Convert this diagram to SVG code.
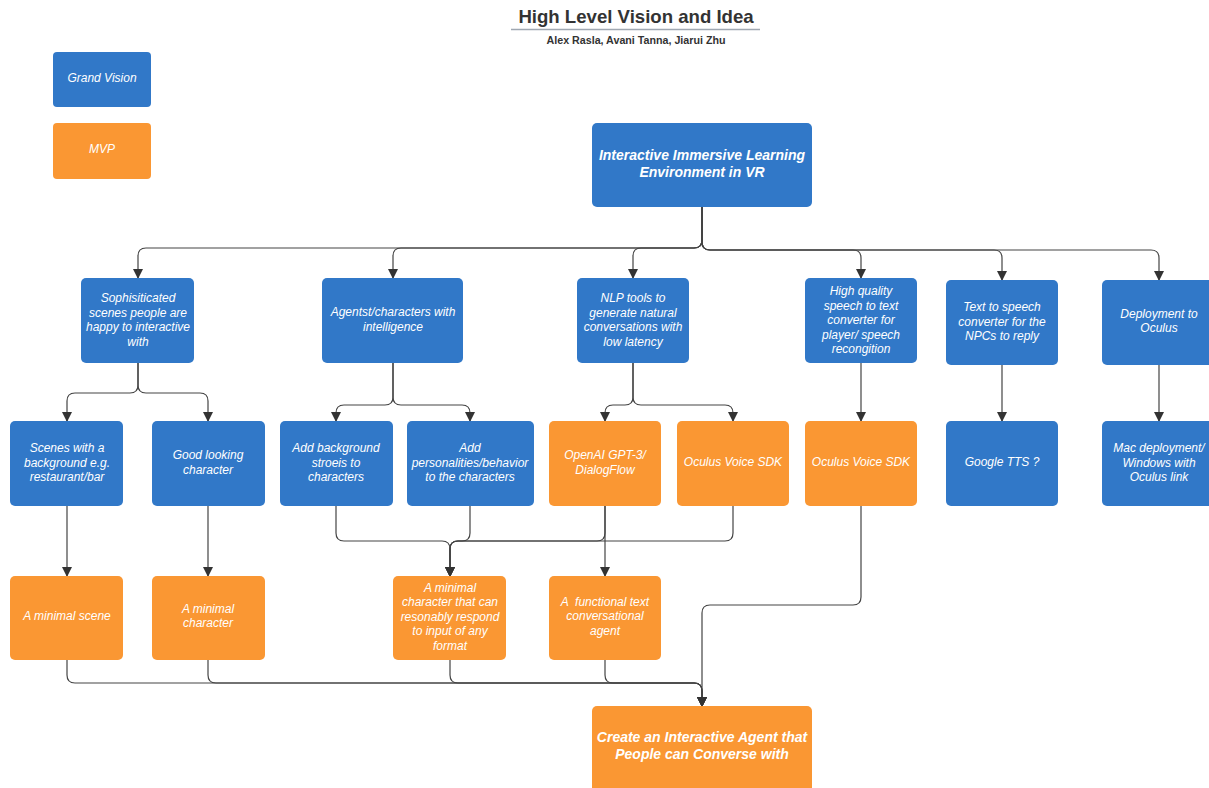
<svg xmlns="http://www.w3.org/2000/svg" width="1209" height="788" viewBox="0 0 1209 788">
<defs>
<style>
.b{fill:#3178c8;}
.o{fill:#fa9733;}
.t{font-family:"Liberation Sans",Arial,sans-serif;font-size:12px;font-style:italic;fill:#ffffff;text-anchor:middle;}
.tb{font-family:"Liberation Sans",Arial,sans-serif;font-size:14px;font-style:italic;font-weight:bold;fill:#ffffff;text-anchor:middle;}
.c{fill:none;stroke:#444;stroke-width:1.2;}
</style>
<marker id="ah" markerWidth="10" markerHeight="12" refX="9" refY="5" orient="auto" markerUnits="userSpaceOnUse">
<path d="M0,0 L10,5 L0,10 Z" fill="#333"/>
</marker>
</defs>
<rect width="1209" height="788" fill="#ffffff"/>
<g id="title">
<text x="636" y="23" font-family="Liberation Sans,Arial,sans-serif" font-size="18.6" font-weight="bold" fill="#333" text-anchor="middle">High Level Vision and Idea</text>
<line x1="511" y1="29.5" x2="760" y2="29.5" stroke="#a0a8b2" stroke-width="1.5"/>
<text x="636" y="44" font-family="Liberation Sans,Arial,sans-serif" font-size="10.7" font-weight="bold" fill="#333" text-anchor="middle">Alex Rasla, Avani Tanna, Jiarui Zhu</text>
</g>
<g id="legend-grand-vision"><rect class="b" x="53" y="52" width="98" height="55" rx="4"/><text class="t" x="102" y="82">Grand Vision</text></g>
<g id="legend-mvp"><rect class="o" x="53" y="123" width="98" height="56" rx="4"/><text class="t" x="102" y="153">MVP</text></g>

<g id="connectors">
<path class="c" d="M702,207 V240 Q702,248 694,248 H146 Q138,248 138,256 V278" marker-end="url(#ah)"/>
<path class="c" d="M702,207 V240 Q702,248 694,248 H401 Q393,248 393,256 V278" marker-end="url(#ah)"/>
<path class="c" d="M702,207 V240 Q702,248 694,248 H641 Q633,248 633,256 V278" marker-end="url(#ah)"/>
<path class="c" d="M702,207 V242 Q702,250 710,250 H853 Q861,250 861,258 V278" marker-end="url(#ah)"/>
<path class="c" d="M702,207 V242 Q702,250 710,250 H994 Q1002,250 1002,258 V280" marker-end="url(#ah)"/>
<path class="c" d="M702,207 V242 Q702,250 710,250 H1151 Q1159,250 1159,258 V280" marker-end="url(#ah)"/>

<path class="c" d="M138,363 V385 Q138,393 130,393 H75 Q67,393 67,401 V421" marker-end="url(#ah)"/>
<path class="c" d="M138,363 V385 Q138,393 146,393 H200 Q208,393 208,401 V421" marker-end="url(#ah)"/>
<path class="c" d="M393,363 V397 Q393,405 385,405 H344 Q336,405 336,413 V421" marker-end="url(#ah)"/>
<path class="c" d="M393,363 V397 Q393,405 401,405 H462 Q470,405 470,413 V421" marker-end="url(#ah)"/>
<path class="c" d="M633,363 V397 Q633,405 625,405 H613 Q605,405 605,413 V421" marker-end="url(#ah)"/>
<path class="c" d="M633,363 V397 Q633,405 641,405 H725 Q733,405 733,413 V421" marker-end="url(#ah)"/>
<path class="c" d="M861,363 V421" marker-end="url(#ah)"/>
<path class="c" d="M1002,365 V421" marker-end="url(#ah)"/>
<path class="c" d="M1159,365 V421" marker-end="url(#ah)"/>

<path class="c" d="M67,506 V576" marker-end="url(#ah)"/>
<path class="c" d="M208,506 V576" marker-end="url(#ah)"/>
<path class="c" d="M336,506 V533 Q336,541 344,541 H442 Q450,541 450,549 V576" marker-end="url(#ah)"/>
<path class="c" d="M470,506 V533 Q470,541 462,541 H458 Q450,541 450,549 V576" marker-end="url(#ah)"/>
<path class="c" d="M605,506 V533 Q605,541 597,541 H458 Q450,541 450,549 V576" marker-end="url(#ah)"/>
<path class="c" d="M733,506 V533 Q733,541 725,541 H458 Q450,541 450,549 V576" marker-end="url(#ah)"/>
<path class="c" d="M605,506 V576" marker-end="url(#ah)"/>
<path class="c" d="M861,506 V597 Q861,605 853,605 H710 Q702,605 702,613 V706" marker-end="url(#ah)"/>

<path class="c" d="M67,660 V675 Q67,683 75,683 H694 Q702,683 702,691 V706" marker-end="url(#ah)"/>
<path class="c" d="M208,660 V675 Q208,683 216,683 H694 Q702,683 702,691 V706" marker-end="url(#ah)"/>
<path class="c" d="M450,660 V675 Q450,683 458,683 H694 Q702,683 702,691 V706" marker-end="url(#ah)"/>
<path class="c" d="M605,660 V675 Q605,683 613,683 H694 Q702,683 702,691 V706" marker-end="url(#ah)"/>
</g>

<g id="n-root"><rect class="b" x="592" y="123" width="220" height="84" rx="5"/>
<text class="tb" x="702" y="160">Interactive Immersive Learning</text><text class="tb" x="702" y="177">Environment in VR</text></g>

<g id="n-scenes"><rect class="b" x="81" y="278" width="113" height="85" rx="5"/>
<text class="t" x="138" y="302">Sophisiticated</text><text class="t" x="138" y="316.5">scenes people are</text><text class="t" x="138" y="331">happy to interactive</text><text class="t" x="138" y="345.5">with</text></g>

<g id="n-agents"><rect class="b" x="322" y="278" width="141" height="85" rx="5"/>
<text class="t" x="393" y="316">Agentst/characters with</text><text class="t" x="393" y="331">intelligence</text></g>

<g id="n-nlp"><rect class="b" x="577" y="278" width="112" height="85" rx="5"/>
<text class="t" x="633" y="302">NLP tools to</text><text class="t" x="633" y="316.5">generate natural</text><text class="t" x="633" y="331">conversations with</text><text class="t" x="633" y="345.5">low latency</text></g>

<g id="n-stt"><rect class="b" x="805" y="278" width="112" height="85" rx="5"/>
<text class="t" x="861" y="295">High quality</text><text class="t" x="861" y="309.5">speech to text</text><text class="t" x="861" y="324">converter for</text><text class="t" x="861" y="338.5">player/ speech</text><text class="t" x="861" y="353">recongition</text></g>

<g id="n-tts"><rect class="b" x="946" y="280" width="112" height="85" rx="5"/>
<text class="t" x="1002" y="311">Text to speech</text><text class="t" x="1002" y="325.5">converter for the</text><text class="t" x="1002" y="340">NPCs to reply</text></g>

<g id="n-deploy"><rect class="b" x="1102" y="280" width="113" height="85" rx="5"/>
<text class="t" x="1159" y="317.5">Deployment to</text><text class="t" x="1159" y="332">Oculus</text></g>

<g id="n-scenes-bg"><rect class="b" x="10" y="421" width="113" height="85" rx="5"/>
<text class="t" x="67" y="452">Scenes with a</text><text class="t" x="67" y="466.5">background e.g.</text><text class="t" x="67" y="481">restaurant/bar</text></g>

<g id="n-good-char"><rect class="b" x="152" y="421" width="113" height="85" rx="5"/>
<text class="t" x="208" y="459">Good looking</text><text class="t" x="208" y="474">character</text></g>

<g id="n-stories"><rect class="b" x="280" y="421" width="113" height="85" rx="5"/>
<text class="t" x="336" y="452">Add background</text><text class="t" x="336" y="466.5">stroeis to</text><text class="t" x="336" y="481">characters</text></g>

<g id="n-personal"><rect class="b" x="407" y="421" width="127" height="85" rx="5"/>
<text class="t" x="470" y="452">Add</text><text class="t" x="470" y="466.5">personalities/behavior</text><text class="t" x="470" y="481">to the characters</text></g>

<g id="n-openai"><rect class="o" x="549" y="421" width="112" height="85" rx="5"/>
<text class="t" x="605" y="459">OpenAI GPT-3/</text><text class="t" x="605" y="473.5">DialogFlow</text></g>

<g id="n-ovs1"><rect class="o" x="677" y="421" width="112" height="85" rx="5"/>
<text class="t" x="733" y="466">Oculus Voice SDK</text></g>

<g id="n-ovs2"><rect class="o" x="805" y="421" width="112" height="85" rx="5"/>
<text class="t" x="861" y="466">Oculus Voice SDK</text></g>

<g id="n-gtts"><rect class="b" x="946" y="421" width="112" height="85" rx="5"/>
<text class="t" x="1002" y="466">Google TTS ?</text></g>

<g id="n-mac"><rect class="b" x="1102" y="421" width="113" height="85" rx="5"/>
<text class="t" x="1159" y="452">Mac deployment/</text><text class="t" x="1159" y="466.5">Windows with</text><text class="t" x="1159" y="481">Oculus link</text></g>

<g id="n-min-scene"><rect class="o" x="10" y="576" width="113" height="84" rx="5"/>
<text class="t" x="67" y="620">A minimal scene</text></g>

<g id="n-min-char"><rect class="o" x="152" y="576" width="113" height="84" rx="5"/>
<text class="t" x="208" y="612.5">A minimal</text><text class="t" x="208" y="627">character</text></g>

<g id="n-min-resp"><rect class="o" x="393" y="576" width="113" height="84" rx="5"/>
<text class="t" x="450" y="591.5">A minimal</text><text class="t" x="450" y="606">character that can</text><text class="t" x="450" y="620.5">resonably respond</text><text class="t" x="450" y="635">to input of any</text><text class="t" x="450" y="649.5">format</text></g>

<g id="n-func"><rect class="o" x="549" y="576" width="112" height="84" rx="5"/>
<text class="t" x="605" y="605.5" xml:space="preserve">A  functional text</text><text class="t" x="605" y="620">conversational</text><text class="t" x="605" y="634.5">agent</text></g>

<g id="n-final"><rect class="o" x="592" y="706" width="220" height="90" rx="5"/>
<text class="tb" x="702" y="742">Create an Interactive Agent that</text><text class="tb" x="702" y="759">People can Converse with</text></g>
</svg>
